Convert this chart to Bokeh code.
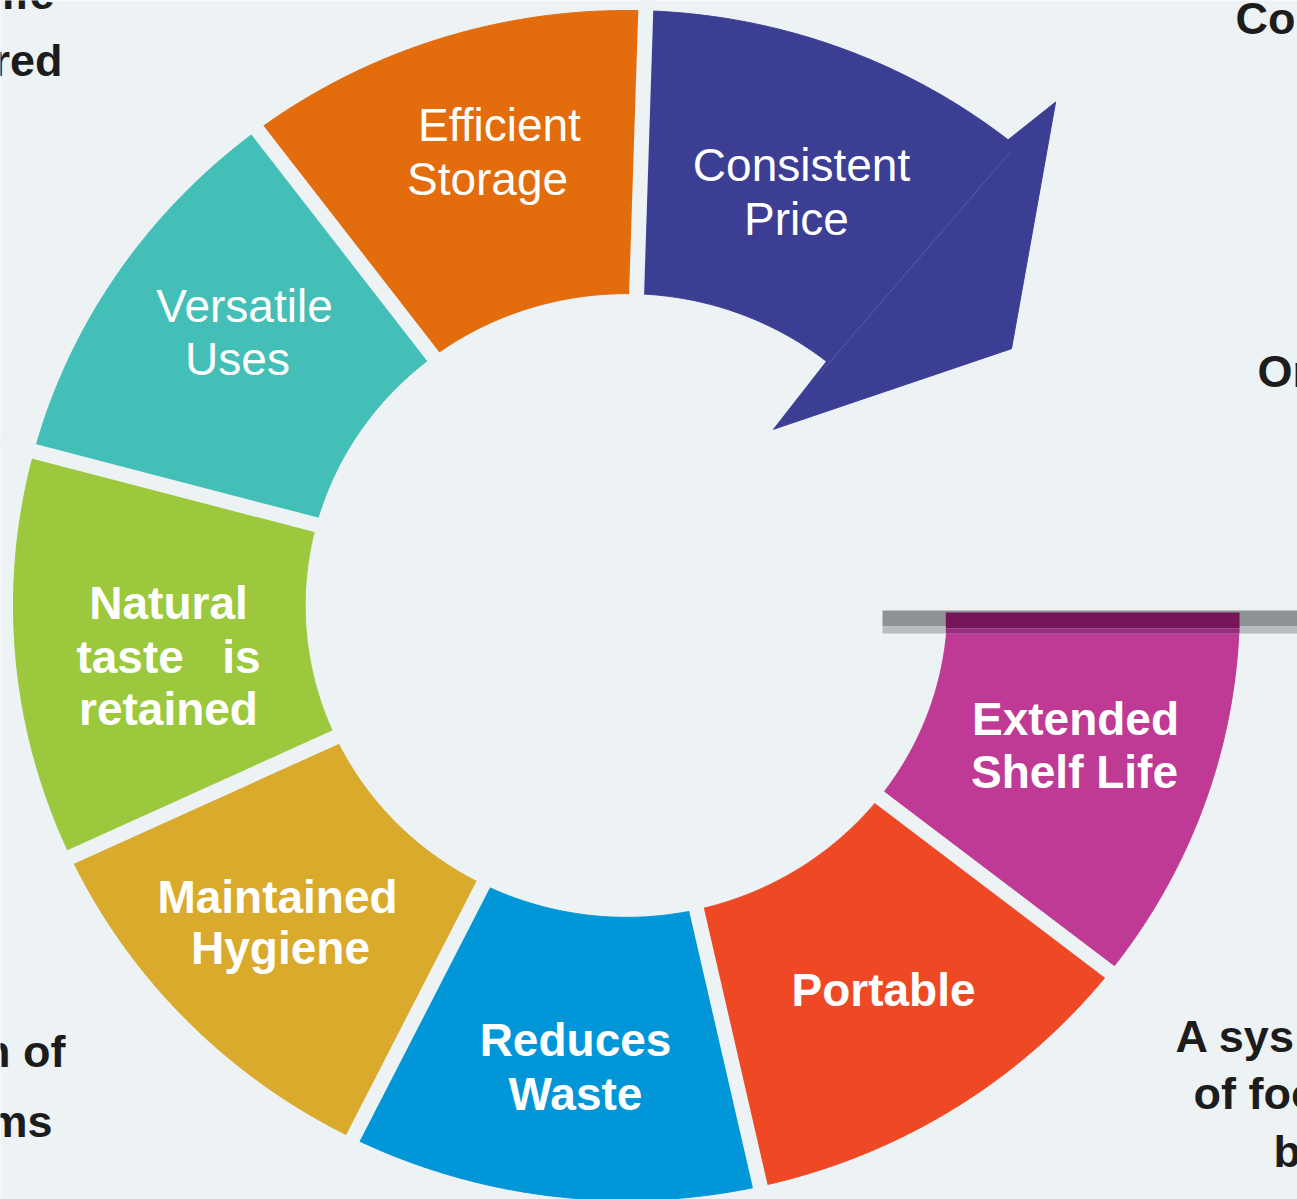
import numpy as np
from bokeh.plotting import figure
from bokeh.models import Range1d, ColumnDataSource
from bokeh.embed import file_html
from bokeh.resources import INLINE
from bokeh.core.properties import value

# ---------------- data ----------------
segments = ["Extended Shelf Life", "Portable", "Reduces Waste", "Maintained Hygiene",
            "Natural taste is retained", "Versatile Uses", "Efficient Storage", "Consistent Price"]
spans_deg = [36.8, 39.4, 39.1, 38.5, 40.0, 38.0, 38.8, 37.2]
label_lines = [["Extended", "Shelf Life"], ["Portable"], ["Reduces", "Waste"],
               ["Maintained", "Hygiene"], ["Natural", "taste \u00a0 is", "retained"],
               ["Versatile", "Uses"], ["Efficient", "Storage"], ["Consistent", "Price"]]
label_bold = [True, True, True, True, True, False, False, False]
edge_words = ["ife", "red", "Co", "Or", "n of", "ms", "A sys", "of foo", "b"]

# ---------------- styles / layout ----------------
colors = ["#be3a94", "#ee4824", "#0096d8", "#d9aa2b", "#9cc83d", "#43bfb7", "#e36c0c", "#3b3e93"]
BG = "#edf2f5"
FONT = "Liberation Sans"
W, H = 1297, 1199
cx, cy = 626, 605
kx, ky = 1.02, 0.99
R_in, R_out = 315, 601
start_angle = -1.2
gap_px = 15
TY = -17  # text vertical offset

# per-line label positions (x center, baseline y)
label_pos = [[(1075, 735), (1074, 788)],
             [(883, 1006)],
             [(575, 1056), (575, 1110)],
             [(277, 913), (280, 964)],
             [(168, 619), (168, 673), (168, 725)],
             [(244, 322), (237, 375)],
             [(499, 141), (487, 195)],
             [(801, 181), (796, 235)]]
edge_pos = [(54, 10, "right"), (62, 77, "right"), (1235, 35, "left"), (1257, 388, "left"),
            (65, 1068, "right"), (52, 1138, "right"), (1175, 1053, "left"),
            (1193, 1110, "left"), (1273, 1168, "left")]


def pt(R, th):
    t = np.radians(th)
    return cx + R * kx * np.cos(t), cy - R * ky * np.sin(t)


p = figure(width=W, height=H, x_range=Range1d(0, W), y_range=Range1d(H, 0),
           output_backend="svg", toolbar_location=None, x_axis_type=None, y_axis_type=None,
           min_border=0, background_fill_color=BG, border_fill_color=BG)
p.outline_line_color = None
p.grid.visible = False

# ring segments
xs, ys = [], []
bounds = []
a0 = start_angle
for i, span in enumerate(spans_deg):
    a1 = a0 - span
    th = np.linspace(a0, a1, 120)
    ox, oy = pt(R_out, th)
    ix, iy = pt(R_in, th[::-1])
    xs.append(list(np.concatenate([ox, ix])))
    ys.append(list(np.concatenate([oy, iy])))
    if i < len(spans_deg) - 1:
        bounds.append(a1)
    a0 = a1
end_angle = a0
p.patches(xs, ys, fill_color=colors, line_color=colors, line_width=1)

# arrowhead on last segment
pts = [pt(229, end_angle), pt(R_in, end_angle + 0.5), pt(R_out, end_angle + 0.5),
       pt(660, end_angle - 0.6), pt((R_in + R_out) / 2, end_angle - 16.5)]
p.patch([q[0] for q in pts], [q[1] for q in pts], fill_color=colors[-1],
        line_color=colors[-1], line_width=1)
sx1, sy1 = pt(R_in - 12, end_angle)
sx2, sy2 = pt(R_out - 8, end_angle - 0.4)
p.segment(x0=[sx1], y0=[sy1], x1=[sx2], y1=[sy2], line_color="#5a5ca8", line_width=1)

# gaps between segments
g0 = [pt(R_in - 40, a) for a in bounds]
g1 = [pt(R_out + 40, a) for a in bounds]
p.segment(x0=[g[0] for g in g0], y0=[g[1] for g in g0], x1=[g[0] for g in g1], y1=[g[1] for g in g1],
          line_color=BG, line_width=gap_px, line_cap="butt")

# gray shelf bar and dark ribbon on the first segment
p.quad(left=[cx + 256], right=[W + 5], top=[610], bottom=[626], fill_color="#8e9396", line_color=None)
p.quad(left=[cx + 256], right=[W + 5], top=[626], bottom=[633], fill_color="#b8bdc0", line_color=None)
rl = cx + R_in * kx - 2
rr = cx + R_out * kx
p.quad(left=[rl], right=[rr], top=[612], bottom=[628], fill_color="#76155a", line_color=None)
p.quad(left=[rl], right=[rr], top=[628], bottom=[633], fill_color="#9a2c7f", line_color=None)

# labels
for bold in (True, False):
    lx, ly, lt = [], [], []
    for lines, pos, b in zip(label_lines, label_pos, label_bold):
        if b != bold:
            continue
        for t, (x, y) in zip(lines, pos):
            lx.append(x)
            ly.append(y + TY)
            lt.append(t)
    src = ColumnDataSource(dict(x=lx, y=ly, text=lt))
    p.text(x="x", y="y", text="text", source=src, text_font=value(FONT), text_font_size="46px",
           text_font_style="bold" if bold else "normal", text_color="white",
           text_align="center", text_baseline="alphabetic")

# clipped neighbouring slide text
for align in ("left", "right"):
    ex = [e[0] for e, w in zip(edge_pos, edge_words) if e[2] == align]
    ey = [e[1] + TY for e, w in zip(edge_pos, edge_words) if e[2] == align]
    et = [w for e, w in zip(edge_pos, edge_words) if e[2] == align]
    p.text(x=ex, y=ey, text=et, text_font=value(FONT), text_font_size="45px",
           text_font_style="bold", text_color="#1c1c1c", text_align=align,
           text_baseline="alphabetic")

open("out.html", "w").write(file_html(p, INLINE))
